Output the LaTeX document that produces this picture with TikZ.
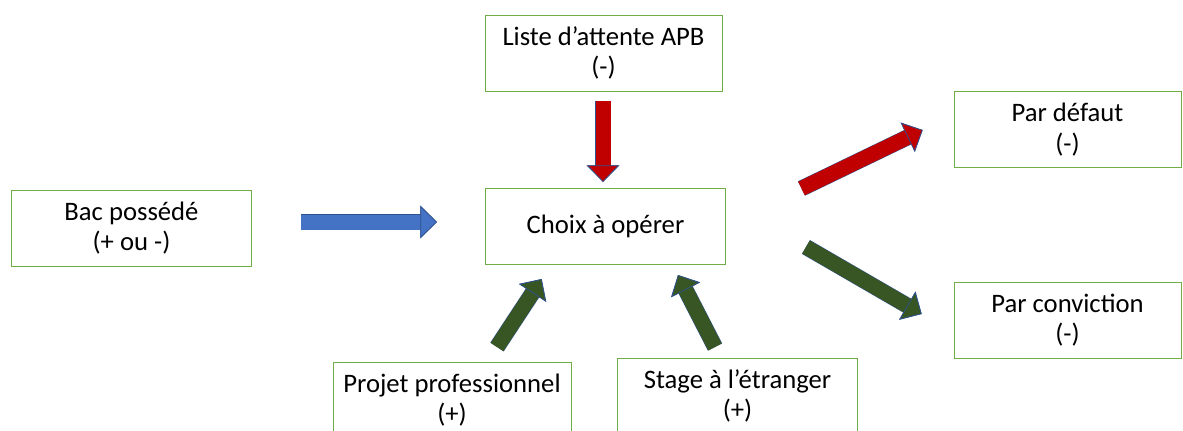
\documentclass[tikz,border=0pt]{standalone}
\usepackage{fontspec}
\setmainfont{Carlito}
\usetikzlibrary{arrows.meta}
\definecolor{boxGreen}{HTML}{70AD47}
\definecolor{arrBlue}{HTML}{4472C4}
\definecolor{arrRed}{HTML}{C00000}
\definecolor{arrGreen}{HTML}{375623}
\definecolor{arrLine}{HTML}{2F528F}
\tikzset{
  box/.style={
    rectangle,
    draw=boxGreen,
    line width=0.75pt,
    fill=white,
    align=center,
    font=\fontsize{20}{23}\selectfont,
    inner sep=0pt,
    minimum height=57pt,
    minimum width=180pt
  },
  fat/.style={
    line width=11.25pt,
    draw=#1,
    preaction={draw=arrLine, line width=12pt,
      -{Triangle[length=12.5pt, width=24pt]}},
    -{Triangle[length=12.5pt, width=24pt, fill=#1, color=arrLine, line width=0.5pt]}
  }
}

\begin{document}
\begin{tikzpicture}[x=0.75pt, y=-0.75pt]
  \path[use as bounding box, fill=white] (0,0) rectangle (1183,430);
  \clip (0,0) rectangle (1183,430);
  % boxes
  \node[box, minimum width=177.75pt] (liste) at (603.5,53) {Liste d’attente APB\\(-)};
  \node[box] (choix) at (605.5,226) {Choix à opérer};
  \node[box] (bac) at (131.5,228) {Bac possédé\\(+ ou -)};
  \node[box, minimum width=170.25pt] (defaut) at (1067.5,129.5) {Par défaut\\(-)};
  \node[box, minimum width=170.25pt] (conviction) at (1067.5,320) {Par conviction\\(-)};
  \node[box, minimum width=178.5pt] (projet) at (452,400) {Projet professionnel\\(+)};
  \node[box] (stage) at (737.5,396) {Stage à l’étranger\\(+)};
  % arrow ends
  \coordinate (bac-t) at (301,222);
  \coordinate (bac-h) at (437,222);
  \coordinate (liste-t) at (603,101);
  \coordinate (liste-h) at (603,182);
  \coordinate (defaut-t) at (801.5,188.5);
  \coordinate (defaut-h) at (922.7,130);
  \coordinate (conviction-t) at (806,247);
  \coordinate (conviction-h) at (921.7,314);
  \coordinate (projet-t) at (497,347);
  \coordinate (projet-h) at (541.7,279);
  \coordinate (stage-t) at (715,347);
  \coordinate (stage-h) at (678,275);
  % arrows
  \draw[fat=arrBlue] (bac-t) -- (bac-h);
  \draw[fat=arrRed] (liste-t) -- (liste-h);
  \draw[fat=arrRed] (defaut-t) -- (defaut-h);
  \draw[fat=arrGreen] (conviction-t) -- (conviction-h);
  \draw[fat=arrGreen] (projet-t) -- (projet-h);
  \draw[fat=arrGreen] (stage-t) -- (stage-h);
\end{tikzpicture}
\end{document}
